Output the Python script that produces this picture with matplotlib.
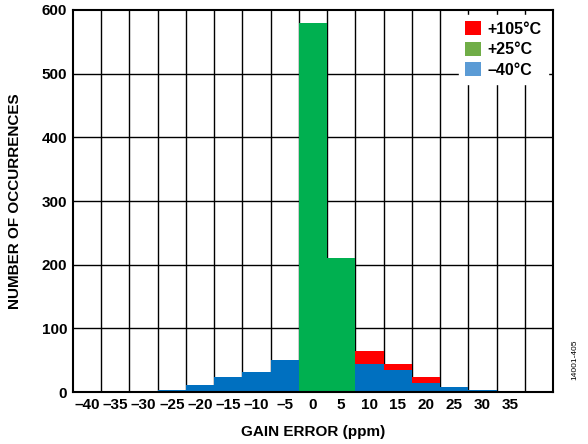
import numpy as np
import matplotlib
matplotlib.use("Agg")
import matplotlib.pyplot as plt
from matplotlib.patches import Patch

plt.rcParams["font.family"] = ["Liberation Sans", "DejaVu Sans"]
plt.rcParams["font.weight"] = "bold"

# bin centres (ppm)
bins = [-40, -35, -30, -25, -20, -15, -10, -5, 0, 5, 10, 15, 20, 25, 30, 35, 40]

# counts (overlapping, not stacked)
hot_105 = [0, 0, 1, 0, 0, 0, 0, 0, 0, 0, 65, 44, 24, 0, 0, 0, 0]
room_25 = [0, 0, 0, 0, 0, 0, 0, 2, 579, 210, 0, 0, 0, 0, 0, 0, 0]
cold_40 = [0, 2, 0, 3, 11, 24, 32, 50, 0, 0, 44, 34, 14, 8, 4, 0, 0]

tick_vals = [-40, -35, -30, -25, -20, -15, -10, -5, 0, 5, 10, 15, 20, 25, 30, 35]
tick_labels = ["–40", "–35", "–30", "–25", "–20", "–15", "–10", "–5",
               "0", "5", "10", "15", "20", "25", "30", "35"]

legend_names = ["+105°C", "+25°C", "–40°C"]

fig = plt.figure(figsize=(5.88, 4.44), dpi=100)
ax = fig.add_axes([0.124, 0.117, 0.8165, 0.8605])

ax.bar(bins, hot_105, width=5, color="#FF0000", zorder=2)
ax.bar(bins, cold_40, width=5, color="#0070C0", zorder=3)
ax.bar(bins, room_25, width=5, color="#00B050", zorder=4)

ax.set_xlim(-42.5, 42.5)
ax.set_ylim(0, 600)

# grid: vertical lines on bin edges, horizontal every 100
for e in np.arange(-37.5, 40, 5):
    ax.axvline(e, color="black", lw=1.0, zorder=1)
for y in range(100, 600, 100):
    ax.axhline(y, color="black", lw=1.0, zorder=1)

ax.set_xticks(tick_vals)
ax.set_xticklabels(tick_labels)
ax.set_yticks(range(0, 700, 100))
ax.tick_params(length=0, labelsize=11, pad=4)
for lab in ax.get_xticklabels() + ax.get_yticklabels():
    lab.set_fontweight("bold")

for sp in ax.spines.values():
    sp.set_linewidth(1.5)
    sp.set_zorder(6)

ax.set_xlabel("GAIN ERROR (ppm)", fontsize=11, fontweight="bold", labelpad=10)
ax.set_ylabel("NUMBER OF OCCURRENCES", fontsize=11, fontweight="bold", labelpad=14)

handles = [Patch(facecolor="#FF0000"), Patch(facecolor="#70AD47"), Patch(facecolor="#5B9BD5")]
leg = ax.legend(handles, legend_names, loc="upper right", frameon=True, fancybox=False,
                edgecolor="white", framealpha=1.0,
                prop={"weight": "bold", "size": 11.5},
                handlelength=1.0, handleheight=1.0, handletextpad=0.4,
                labelspacing=0.3, borderpad=0.4, borderaxespad=0.3)
leg.set_zorder(7)

fig.text(0.978, 0.19, "14001-405", rotation=90, fontsize=6, fontweight="normal",
         ha="center", va="center")

fig.savefig("out.png", dpi=100)
